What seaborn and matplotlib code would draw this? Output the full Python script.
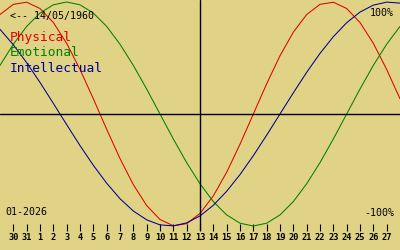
import matplotlib
matplotlib.use("Agg")
import matplotlib.pyplot as plt
import seaborn as sns
import pandas as pd

# ---- data ----
day_labels = ["30", "31"] + [str(d) for d in range(1, 28)]
# positions -1 .. 29 (one day either side of the labelled range so curves reach the edges)
positions = list(range(-1, 30))
physical = [0.888, 0.979, 0.998, 0.942, 0.817, 0.631, 0.398, 0.136, -0.136, -0.398,
            -0.631, -0.817, -0.942, -0.998, -0.979, -0.888, -0.731, -0.520, -0.270, 0.0,
            0.270, 0.520, 0.731, 0.888, 0.979, 0.998, 0.942, 0.817, 0.631, 0.398, 0.136]
emotional = [0.434, 0.623, 0.782, 0.901, 0.975, 1.0, 0.975, 0.901, 0.782, 0.623,
             0.434, 0.223, 0.0, -0.223, -0.434, -0.623, -0.782, -0.901, -0.975, -1.0,
             -0.975, -0.901, -0.782, -0.623, -0.434, -0.223, 0.0, 0.223, 0.434, 0.623, 0.782]
intellectual = [0.756, 0.618, 0.458, 0.282, 0.095, -0.095, -0.282, -0.458, -0.618, -0.756,
                -0.866, -0.945, -0.990, -0.999, -0.972, -0.910, -0.815, -0.690, -0.541, -0.372,
                -0.189, 0.0, 0.189, 0.372, 0.541, 0.690, 0.815, 0.910, 0.972, 0.999, 0.990]
series_names = ["Physical", "Emotional", "Intellectual"]
birth_text = "<-- 14/05/1960"
month_text = "01-2026"
top_text = "100%"
bottom_text = "-100%"
today_index = 14  # day 13

# ---- styling ----
BG = "#E1D385"
colors = {"Physical": "#E00000", "Emotional": "#008000", "Intellectual": "#000090"}

sns.set_style("white")
plt.rcParams["font.family"] = ["DejaVu Sans Mono", "DejaVu Sans"]

df = pd.DataFrame({
    "pos": positions * 3,
    "value": physical + emotional + intellectual,
    "series": ["Physical"] * len(positions) + ["Emotional"] * len(positions) + ["Intellectual"] * len(positions),
})

W, H = 400, 250
fig = plt.figure(figsize=(W / 100, H / 100), dpi=100, facecolor=BG)
ax_bottom_px = 231
ax = fig.add_axes([0, (H - ax_bottom_px) / H, 1, ax_bottom_px / H])
ax.set_facecolor(BG)

sns.lineplot(data=df, x="pos", y="value", hue="series", palette=colors,
             hue_order=series_names, linewidth=0.75, legend=False, ax=ax, sort=False,
             estimator=None)

zero_px, amp_px = 114, 112
ax.set_xlim(-1, 29)
ax.set_ylim(-(ax_bottom_px - zero_px) / amp_px, zero_px / amp_px)

ax.axhline(0, color="black", linewidth=1.0)
ax.axvline(today_index, color="black", linewidth=1.0)

for s in ax.spines.values():
    s.set_visible(False)

ax.set_xticks(list(range(len(day_labels))))
ax.set_xticklabels(day_labels, fontsize=6.2, fontweight="bold")
ax.tick_params(axis="x", direction="in", length=5.0, width=0.8, pad=1.5,
               bottom=True, colors="black")
ax.set_yticks([])
ax.set_xlabel("")
ax.set_ylabel("")


def ftext(x, y, s, **kw):
    fig.text(x / W, 1 - y / H, s, **kw)


ftext(10, 16, birth_text, fontsize=7.2, va="center", ha="left", color="black")
ftext(10, 38, series_names[0], fontsize=9.3, va="center", ha="left", color=colors["Physical"])
ftext(10, 53, series_names[1], fontsize=9.3, va="center", ha="left", color=colors["Emotional"])
ftext(10, 68, series_names[2], fontsize=9.3, va="center", ha="left", color=colors["Intellectual"])
ftext(394, 13, top_text, fontsize=7.2, va="center", ha="right", color="black")
ftext(394, 213, bottom_text, fontsize=7.2, va="center", ha="right", color="black")
ftext(5, 212, month_text, fontsize=7.2, va="center", ha="left", color="black")

fig.savefig("out.png", dpi=100, facecolor=BG)
